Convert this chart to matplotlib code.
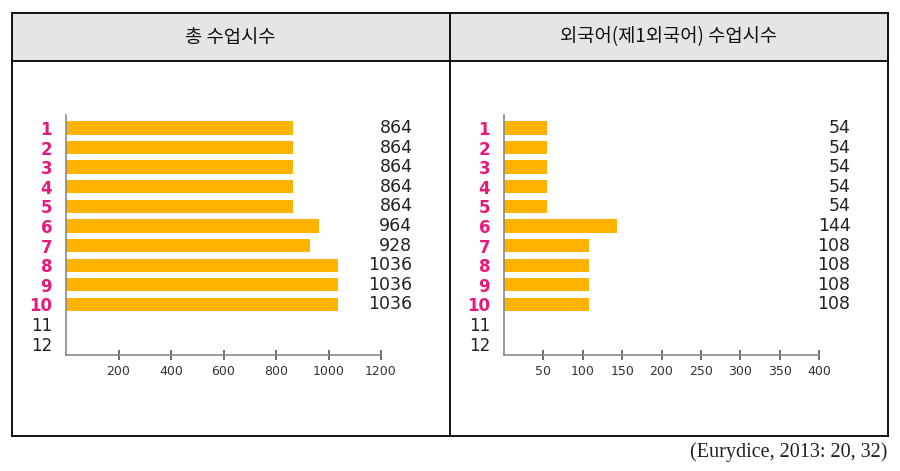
import matplotlib
matplotlib.use("Agg")
import matplotlib.pyplot as plt
from matplotlib.lines import Line2D
from matplotlib.patches import Rectangle
from matplotlib import font_manager

W, H = 900, 471

categories = ["1", "2", "3", "4", "5", "6", "7", "8", "9", "10", "11", "12"]
total_hours = [864, 864, 864, 864, 864, 964, 928, 1036, 1036, 1036]
foreign_hours = [54, 54, 54, 54, 54, 144, 108, 108, 108, 108]
left_ticks = [200, 400, 600, 800, 1000, 1200]
right_ticks = [50, 100, 150, 200, 250, 300, 350, 400]
titles = ["총 수업시수", "외국어(제1외국어) 수업시수"]
source = "(Eurydice, 2013: 20, 32)"

BAR = "#FFB300"
PINK = "#E8197D"
KFONT = ["Noto Sans CJK KR", "DejaVu Sans"]

available = {f.name for f in font_manager.fontManager.ttflist}
TICKFONT = ["Liberation Sans Narrow", "DejaVu Sans"] if "Liberation Sans Narrow" in available else ["DejaVu Sans"]
TICKSIZE = 11 if "Liberation Sans Narrow" in available else 9

fig = plt.figure(figsize=(W / 100, H / 100), dpi=100)


def fx(px):
    return px / W


def fy(py):
    return 1 - py / H


# table frame
L, R, T, B, HL, MID = 11.5, 888, 13, 435.5, 61, 449.5
fig.patches.append(Rectangle((fx(L), fy(HL)), fx(R - L), fy(T) - fy(HL),
                             transform=fig.transFigure, facecolor="#E5E5E5",
                             edgecolor="none", zorder=0))
lw = 1.3
for (x0, y0, x1, y1) in [(L, T, R, T), (L, B, R, B), (L, T, L, B), (R, T, R, B),
                         (MID, T, MID, B), (L, HL, R, HL)]:
    fig.add_artist(Line2D([fx(x0), fx(x1)], [fy(y0), fy(y1)], color="black",
                          lw=lw, transform=fig.transFigure))

fig.text(fx((L + MID) / 2), fy(37), titles[0], ha="center", va="center",
         fontsize=13.5, family=KFONT, color="#111111")
fig.text(fx((MID + R) / 2), fy(37), titles[1], ha="center", va="center",
         fontsize=13.5, family=KFONT, color="#111111")
fig.text(fx(887), fy(452), source, ha="right", va="center", fontsize=14.5,
         family=["Liberation Serif", "DejaVu Serif"], color="#222222")


def panel(x0, x1, values, ticks, xmax):
    ax = fig.add_axes([fx(x0), fy(355), fx(x1 - x0), fy(115) - fy(355)])
    ypos = list(range(1, len(categories) + 1))
    ax.barh(ypos[:len(values)], values, height=0.68, color=BAR, edgecolor="none")
    ax.set_xlim(0, xmax)
    ax.set_ylim(12.58, 0.34)
    for s in ["top", "right"]:
        ax.spines[s].set_visible(False)
    for s in ["left", "bottom"]:
        ax.spines[s].set_color("#8A8A8A")
        ax.spines[s].set_linewidth(1.2)
    ax.set_xticks(ticks)
    ax.set_xticklabels([str(t) for t in ticks], family=TICKFONT)
    ax.tick_params(axis="x", direction="inout", length=7, width=1.2,
                   color="#555555", labelsize=TICKSIZE, labelcolor="#333333", pad=4)
    ax.set_yticks(ypos)
    ax.set_yticklabels(categories)
    ax.tick_params(axis="y", length=0, pad=10)
    for i, lab in enumerate(ax.get_yticklabels()):
        if i < len(values):
            lab.set_color(PINK)
            lab.set_fontweight("bold")
            lab.set_fontsize(12)
        else:
            lab.set_color("#222222")
            lab.set_fontsize(12)
    for y, v in zip(ypos, values):
        ax.text(1.10, y, str(v), transform=ax.get_yaxis_transform(),
                ha="right", va="center", fontsize=12.5, color="#222222",
                clip_on=False)
    ax.set_facecolor("none")
    return ax


panel(66, 381, total_hours, left_ticks, 1200)
panel(504, 819, foreign_hours, right_ticks, 400)

fig.savefig("out.png", dpi=100)
